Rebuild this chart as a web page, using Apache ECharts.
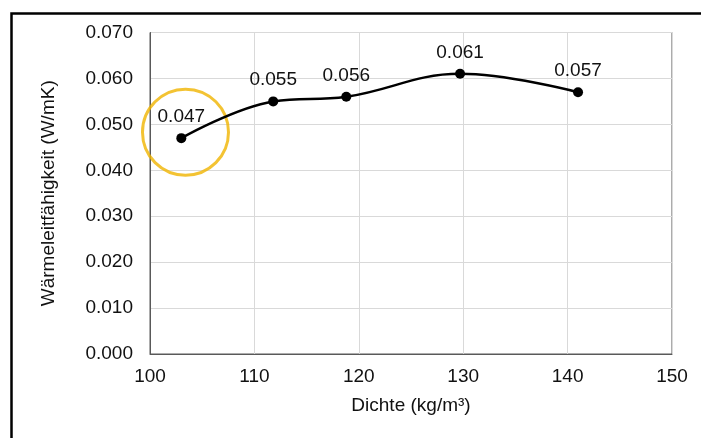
<!DOCTYPE html>
<html>
<head>
<meta charset="utf-8">
<script src="https://cdn.jsdelivr.net/npm/echarts@6/dist/echarts.min.js"></script>
<style>html,body{margin:0;padding:0;background:#fff;}#c{width:701px;height:438px;}</style>
</head>
<body>
<div id="c"></div>
<script>
const density = [103.0, 111.8, 118.8, 129.7, 141.0];
const conductivity = [0.047, 0.055, 0.056, 0.061, 0.057];
const highlight = [[103.4, 0.0483]];
const xName = 'Dichte (kg/m³)';
const yName = 'Wärmeleitfähigkeit (W/mK)';

const FONT = '"Liberation Sans", Arial, sans-serif';
const TXT = '#111';
const chart = echarts.init(document.getElementById('c'), null, {renderer: 'canvas'});
chart.setOption({
  animation: false,
  backgroundColor: '#fff',
  graphic: [{
    type: 'rect', left: 9, top: 11, z: 100,
    shape: {x: 0, y: 0, width: 760, height: 500},
    style: {fill: 'none', stroke: '#000', lineWidth: 2.5}
  }],
  grid: {left: 150, top: 32.5, right: 29, bottom: 84, show: true, borderColor: '#595959', borderWidth: 1, backgroundColor: 'transparent'},
  xAxis: {
    type: 'value', min: 100, max: 150, interval: 10,
    name: xName, nameLocation: 'middle', nameGap: 42,
    nameTextStyle: {fontFamily: FONT, fontSize: 19, color: TXT},
    axisLine: {show: true, lineStyle: {color: '#595959', width: 1}},
    axisTick: {show: false},
    axisLabel: {fontFamily: FONT, fontSize: 19, color: TXT, margin: 13},
    splitLine: {show: true, lineStyle: {color: '#d9d9d9', width: 1}}
  },
  yAxis: {
    type: 'value', min: 0, max: 0.07, interval: 0.01,
    name: yName, nameLocation: 'middle', nameGap: 92,
    nameTextStyle: {fontFamily: FONT, fontSize: 19, color: TXT},
    axisLine: {show: true, lineStyle: {color: '#595959', width: 1}},
    axisTick: {show: false},
    axisLabel: {fontFamily: FONT, fontSize: 19, color: TXT, margin: 17, formatter: v => v.toFixed(3)},
    splitLine: {show: true, lineStyle: {color: '#d9d9d9', width: 1}}
  },
  series: [{
    type: 'line',
    data: density.map((d, i) => [d, conductivity[i]]),
    smooth: 0.4,
    symbol: 'circle', symbolSize: 10,
    lineStyle: {color: '#000', width: 2.5},
    itemStyle: {color: '#000'},
    label: {show: true, position: 'top', distance: 7, fontFamily: FONT, fontSize: 19, color: TXT,
      formatter: p => p.value[1].toFixed(3)}
  }, {
    type: 'scatter',
    data: highlight,
    symbol: 'circle', symbolSize: 86,
    silent: true,
    itemStyle: {color: 'transparent', borderColor: '#F0B400', borderWidth: 3},
    z: 1
  }]
});
</script>
</body>
</html>
